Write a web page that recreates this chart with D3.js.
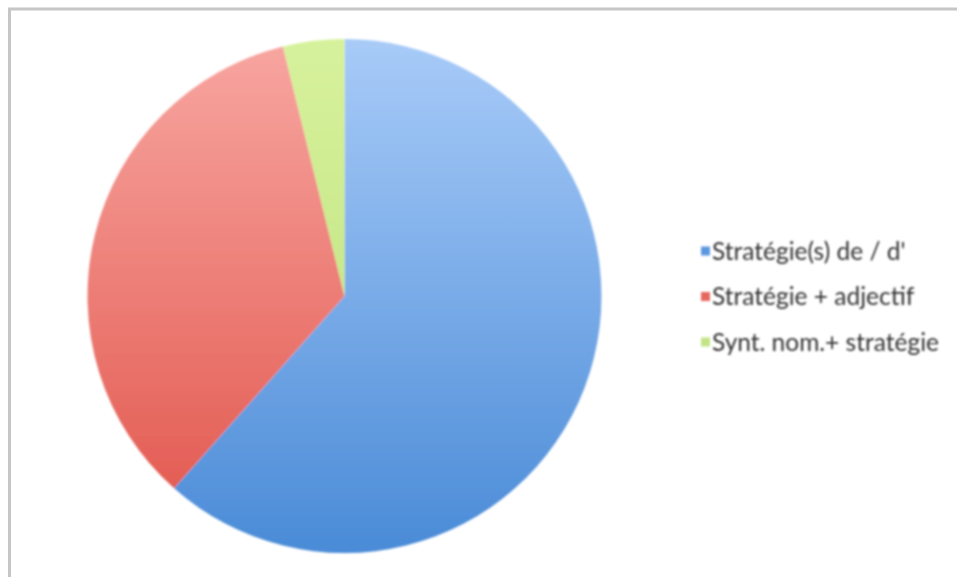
<!DOCTYPE html>
<html>
<head>
<meta charset="utf-8">
<script src="https://cdn.jsdelivr.net/npm/d3@7/dist/d3.min.js"></script>
<style>
  html, body { margin: 0; padding: 0; background: #ffffff; }
  svg { display: block; }
</style>
</head>
<body>
<svg id="chart" width="957" height="577"></svg>
<script>
// Categories and their counts
const categories = ["Stratégie(s) de / d'", "Stratégie + adjectif", "Synt. nom.+ stratégie"];
const counts = [16, 9, 1];
// Light (top) and dark (bottom) shade of each slice, plus the legend swatch colour
const topColors = ["#a8cbf8", "#f8a6a1", "#d7f29c"];
const bottomColors = ["#4a8bd7", "#e0544a", "#b9dc78"];
const legendColors = ["#5c98e0", "#e6675f", "#c2e386"];

const W = 957, H = 577;
const cx = 344.5, cy = 296, r = 257;

const svg = d3.select("#chart");
const defs = svg.append("defs");

// Vertical gradients in the pie group's own coordinates (centre at 0,0)
categories.forEach((c, i) => {
  const g = defs.append("linearGradient")
    .attr("id", "grad" + i)
    .attr("gradientUnits", "userSpaceOnUse")
    .attr("x1", 0).attr("y1", -r)
    .attr("x2", 0).attr("y2", r);
  g.append("stop").attr("offset", "0%").attr("stop-color", topColors[i]);
  g.append("stop").attr("offset", "100%").attr("stop-color", bottomColors[i]);
});

defs.append("filter").attr("id", "soft")
  .append("feGaussianBlur").attr("stdDeviation", 0.8);

// Chart frame (top and left edges fall inside the page)
svg.append("rect")
  .attr("x", 9.5).attr("y", 9)
  .attr("width", W + 20).attr("height", H + 20)
  .attr("fill", "none")
  .attr("stroke", "#c6c6c6")
  .attr("stroke-width", 3);

const pie = d3.pie().sort(null).value(d => d);
const arc = d3.arc().innerRadius(0).outerRadius(r);

svg.append("g")
  .attr("transform", `translate(${cx},${cy})`)
  .attr("filter", "url(#soft)")
  .selectAll("path")
  .data(pie(counts))
  .join("path")
  .attr("d", arc)
  .attr("fill", (d, i) => `url(#grad${i})`);

// Legend
const legendX = 701, legendY0 = 251, legendStep = 45.5;
const lg = svg.append("g").attr("filter", "url(#soft)");
categories.forEach((c, i) => {
  const y = legendY0 + i * legendStep;
  lg.append("rect")
    .attr("x", legendX).attr("y", y - 4.5)
    .attr("width", 9).attr("height", 9)
    .attr("fill", legendColors[i]);
  lg.append("text")
    .attr("x", legendX + 11).attr("y", y)
    .attr("dy", "0.35em")
    .attr("font-family", "Lato, 'Open Sans', sans-serif")
    .attr("font-size", 24.5)
    .attr("fill", "#333333")
    .text(c);
});
</script>
</body>
</html>
